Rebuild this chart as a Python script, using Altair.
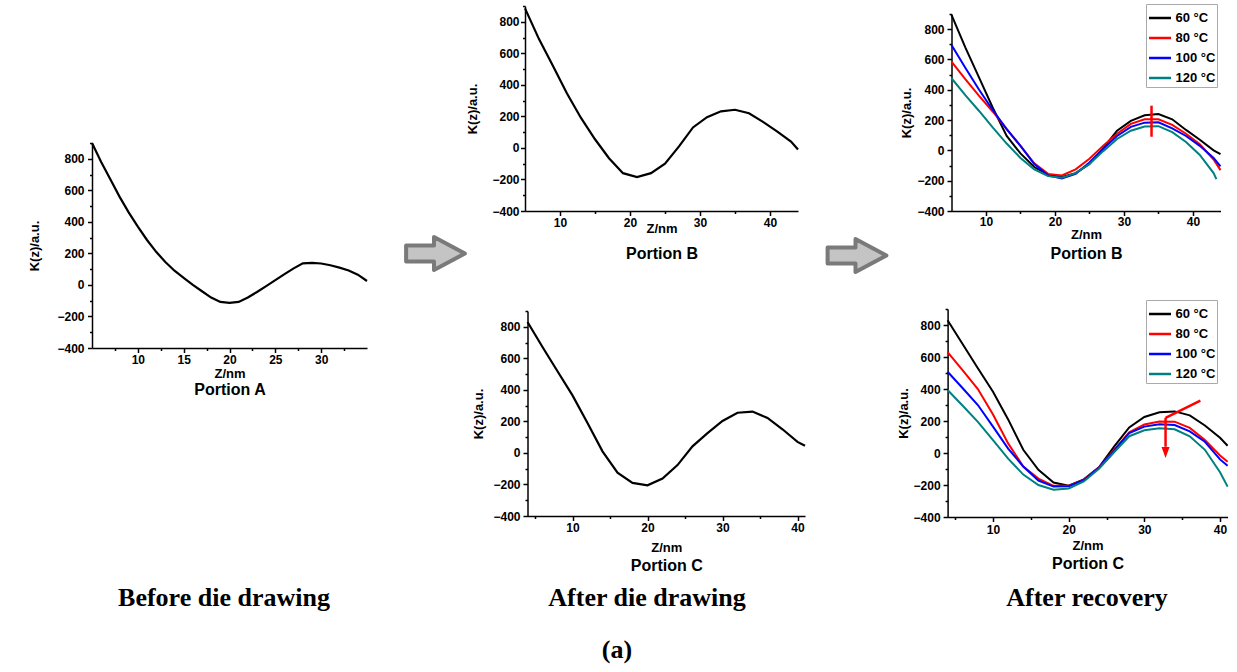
import altair as alt
import pandas as pd

SANS = "Liberation Sans"
SERIF = "Liberation Serif"
W, H = 1237, 672

# ---------------- data ----------------
# Portion A, before die drawing
a_z = list(range(5, 36))
a_k = [900, 780, 670, 560, 460, 370, 285, 210, 145, 90, 45, 0, -40, -80, -108,
       -114, -108, -80, -45, -8, 30, 68, 105, 137, 140, 136, 125, 110, 92, 65, 25]

# Portion B, after die drawing
b_z = [5, 7, 9, 11, 13, 15, 17, 19, 21, 23, 25, 27, 29, 31, 33, 35, 37, 39, 41, 43, 44]
b_k = [885, 690, 520, 345, 190, 55, -65, -160, -185, -160, -100, 10, 130, 195, 232,
       242, 220, 165, 105, 40, -10]

# Portion C, after die drawing
c_z = [4, 6, 8, 10, 12, 14, 16, 18, 20, 22, 24, 26, 28, 30, 32, 34, 36, 38, 40, 41]
c_k = [830, 672, 518, 365, 190, 10, -125, -190, -205, -162, -77, 42, 125, 203, 255,
       262, 222, 150, 70, 45]

# Portion B, after recovery
rb_z = [5, 7, 9, 11, 13, 15, 17, 19, 21, 23, 25, 27, 29, 31, 33, 35, 37, 39, 41, 43, 44]
rb_z120 = [5, 7, 9, 11, 13, 15, 17, 19, 21, 23, 25, 27, 29, 31, 33, 35, 37, 39, 41, 43, 43.4]
rb_60 = [894, 680, 480, 280, 95, -20, -110, -160, -175, -150, -90, 15, 130, 195, 232,
         240, 205, 135, 70, 0, -25]
rb_80 = [586, 470, 360, 255, 140, 30, -85, -155, -165, -125, -55, 30, 110, 175, 205,
         205, 168, 110, 40, -60, -130]
rb_100 = [696, 545, 400, 265, 140, 30, -90, -165, -185, -155, -80, 10, 95, 155, 183,
          185, 145, 95, 30, -50, -105]
rb_120 = [476, 365, 260, 150, 45, -50, -125, -170, -180, -150, -90, -5, 75, 130, 158,
          160, 120, 55, -30, -150, -190]

# Portion C, after recovery
rc_z = [4, 6, 8, 10, 12, 14, 16, 18, 20, 22, 24, 26, 28, 30, 32, 34, 36, 38, 40, 41]
rc_60 = [830, 680, 530, 383, 210, 20, -105, -185, -204, -165, -90, 40, 160, 225, 255,
         260, 235, 172, 95, 45]
rc_80 = [630, 516, 400, 240, 60, -85, -160, -205, -204, -168, -90, 20, 130, 178, 197,
         196, 157, 82, -15, -55]
rc_100 = [508, 405, 300, 165, 28, -85, -172, -210, -208, -170, -92, 15, 125, 165, 180,
          175, 135, 70, -40, -80]
rc_120 = [394, 295, 195, 80, -35, -135, -200, -230, -222, -178, -98, 5, 105, 142, 155,
          148, 104, 20, -120, -210]

series = ["60 °C", "80 °C", "100 °C", "120 °C"]
series_colors = ["#000000", "#ff0000", "#0000ff", "#008080"]

y_major = [-400, -200, 0, 200, 400, 600, 800]
y_minor = [-300, -100, 100, 300, 500, 700, 900]
a_x_major = [10, 15, 20, 25, 30]
a_x_minor = [7.5, 12.5, 17.5, 22.5, 27.5, 32.5]
b_x_major = [10, 20, 30, 40]
b_x_minor = [15, 25, 35]
c_x_major = [10, 20, 30, 40]
c_x_minor = [5, 15, 25, 35]

# red annotations (data coordinates)
rb_mark_z = [34]
rb_mark_lo = [90]
rb_mark_hi = [295]
rc_diag_z = [37.4, 32.8]
rc_diag_k = [327, 220]
rc_stem_k = [220, 39]
rc_head_k = [3]

# ---------------- helpers ----------------
def single_df(z, k):
    return pd.DataFrame({"z": z, "k": k})


def multi_df(zs, ks):
    rows = []
    for name, z, k in zip(series, zs, ks):
        for zi, ki in zip(z, k):
            rows.append({"z": zi, "k": ki, "s": name})
    return pd.DataFrame(rows)


def panel(df, xdom, xrange, yrange, xmaj, xmin, portion, ax, multi=False, legend_y=None, extra=None):
    xs = alt.Scale(domain=xdom, range=xrange, nice=False, zero=False)
    ys = alt.Scale(domain=[-400, 900], range=yrange, nice=False, zero=False)
    x_off = yrange[0] - H
    y_off = -xrange[0]
    main_x = alt.Axis(orient="bottom", offset=x_off, values=xmaj, title="Z/nm",
                      labelPadding=ax["xlp"], titlePadding=ax["xtp"])
    main_y = alt.Axis(orient="left", offset=y_off, values=y_major, title="K(z)/a.u.",
                      labelPadding=ax["ylp"], titlePadding=ax["ytp"])
    enc = dict(x=alt.X("z:Q", scale=xs, axis=main_x),
               y=alt.Y("k:Q", scale=ys, axis=main_y))
    if multi:
        enc["color"] = alt.Color(
            "s:N", sort=series,
            scale=alt.Scale(domain=series, range=series_colors),
            legend=alt.Legend(orient="none", legendX=1146, legendY=legend_y, title=None,
                              symbolType="stroke", symbolSize=484, symbolStrokeWidth=2.5,
                              labelFont=SANS, labelFontSize=13, labelFontWeight="bold",
                              labelColor="black", labelOffset=3, padding=1.5, rowPadding=-3.7,
                              strokeColor="#aaaaaa", fillColor="white"))
        line = alt.Chart(df).mark_line(strokeWidth=2).encode(**enc)
    else:
        line = alt.Chart(df).mark_line(strokeWidth=2.2, color="black").encode(**enc)
    minor = alt.Chart(df).mark_line(opacity=0).encode(
        x=alt.X("z:Q", scale=xs,
                axis=alt.Axis(orient="bottom", offset=x_off, values=xmin, labels=False,
                              domain=False, tickSize=2.5, title=portion, titleFontSize=16,
                              titlePadding=ax["ptp"])),
        y=alt.Y("k:Q", scale=ys,
                axis=alt.Axis(orient="left", offset=y_off, values=y_minor, labels=False,
                              domain=False, tickSize=2.5, title=None)))
    layers = [line, minor]
    if extra:
        layers += extra(xs, ys)
    return alt.layer(*layers).resolve_axis(x="independent", y="independent")


def rb_extra(xs, ys):
    d = pd.DataFrame({"z": rb_mark_z, "lo": rb_mark_lo, "hi": rb_mark_hi})
    return [alt.Chart(d).mark_rule(color="#ff0000", strokeWidth=2.5).encode(
        x=alt.X("z:Q", scale=xs, axis=None),
        y=alt.Y("lo:Q", scale=ys, axis=None), y2="hi:Q")]


HEAD = "M -1 -1.4 L 1 -1.4 L 0 1.4 Z"


def rc_extra(xs, ys):
    diag = pd.DataFrame({"z1": [rc_diag_z[0]], "z2": [rc_diag_z[1]],
                         "k1": [rc_diag_k[0]], "k2": [rc_diag_k[1]]})
    stem = pd.DataFrame({"z": [rc_diag_z[1]], "k1": [rc_stem_k[0]], "k2": [rc_stem_k[1]]})
    head = pd.DataFrame({"z": [rc_diag_z[1]], "k": rc_head_k})
    return [
        alt.Chart(diag).mark_rule(color="#ff0000", strokeWidth=2.5).encode(
            x=alt.X("z1:Q", scale=xs, axis=None), x2="z2:Q",
            y=alt.Y("k1:Q", scale=ys, axis=None), y2="k2:Q"),
        alt.Chart(stem).mark_rule(color="#ff0000", strokeWidth=2.5).encode(
            x=alt.X("z:Q", scale=xs, axis=None),
            y=alt.Y("k1:Q", scale=ys, axis=None), y2="k2:Q"),
        alt.Chart(head).mark_point(shape=HEAD, size=64, filled=True, fill="#ff0000",
                                   opacity=1).encode(
            x=alt.X("z:Q", scale=xs, axis=None),
            y=alt.Y("k:Q", scale=ys, axis=None)),
    ]


pA = panel(single_df(a_z, a_k), [5, 35], [92, 367], [348, 143], a_x_major, a_x_minor,
           "Portion A", dict(xlp=1.5, xtp=2.5, ylp=3.5, ytp=15, ptp=30.5))
pB = panel(single_df(b_z, b_k), [5, 44], [525, 798], [211, 6], b_x_major, b_x_minor,
           "Portion B", dict(xlp=1.5, xtp=-5.5, ylp=1.5, ytp=12, ptp=31.5))
pC = panel(single_df(c_z, c_k), [4, 41], [527.5, 805], [516, 311], c_x_major, c_x_minor,
           "Portion C", dict(xlp=2, xtp=7.5, ylp=3, ytp=7.5, ptp=38.5))
pRB = panel(multi_df([rb_z, rb_z, rb_z, rb_z120], [rb_60, rb_80, rb_100, rb_120]),
            [5, 44], [951.5, 1220.5], [211, 14], b_x_major, b_x_minor, "Portion B",
            dict(xlp=0.5, xtp=1.5, ylp=3, ytp=3, ptp=31.5), multi=True, legend_y=4,
            extra=rb_extra)
pRC = panel(multi_df([rc_z] * 4, [rc_60, rc_80, rc_100, rc_120]),
            [4, 41], [947.6, 1227.6], [517, 309], c_x_major, c_x_minor, "Portion C",
            dict(xlp=3, xtp=3.5, ylp=3, ytp=3, ptp=35.5), multi=True, legend_y=300,
            extra=rc_extra)

# ---------------- decorations ----------------
dummy = pd.DataFrame({"_": [0]})
ARROW = ("M -0.98 -0.27 L -0.05 -0.27 L -0.05 -0.55 L 0.98 0 "
         "L -0.05 0.55 L -0.05 0.27 L -0.98 0.27 Z")


def label(text, x, y):
    return alt.Chart(dummy).mark_text(
        text=text, font=SERIF, fontSize=26, fontWeight="bold", color="black",
        align="center", baseline="middle").encode(x=alt.value(x), y=alt.value(y))


def block_arrow(x, y):
    return alt.Chart(dummy).mark_point(
        shape=ARROW, size=3600, filled=True, fill="#c4c4c4", stroke="#7a7a7a",
        strokeWidth=4, strokeJoin="round", opacity=1).encode(x=alt.value(x), y=alt.value(y))


decor = [
    block_arrow(435.5, 253.5),
    block_arrow(857, 255.5),
    label("Before die drawing", 224, 598),
    label("After die drawing", 647, 598),
    label("After recovery", 1087, 598),
    label("(a)", 617, 650),
]

chart = alt.layer(pA, pB, pC, pRB, pRC, *decor).resolve_scale(
    x="independent", y="independent", color="independent"
).resolve_axis(
    x="independent", y="independent"
).resolve_legend(
    color="independent"
).properties(
    width=W, height=H, padding=0,
    autosize=alt.AutoSizeParams(type="none"),
    background="white",
).configure_view(
    stroke=None
).configure_axis(
    domainColor="black", domainWidth=1.5, tickColor="black", tickWidth=1.5, tickSize=4.5,
    labelFont=SANS, labelFontSize=12, labelFontWeight="bold", labelColor="black",
    titleFont=SANS, titleFontSize=13, titleFontWeight="bold", titleColor="black",
    grid=False, labelFlush=False, labelOverlap=False,
)

chart.save("out.html", embed_options={"renderer": "svg", "actions": False})
